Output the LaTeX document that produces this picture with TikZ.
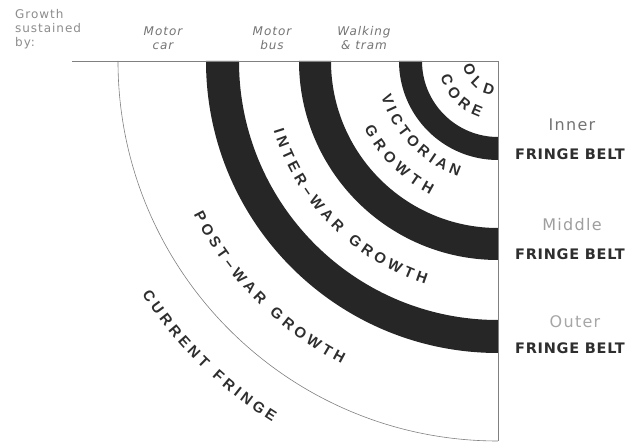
\documentclass[tikz,border=0pt]{standalone}
\usepackage{fontspec}
\usepackage{tikz}
\usetikzlibrary{decorations.text}

\setmainfont{DejaVu Sans}
\newfontfamily\capsans{Liberation Sans}
\newfontfamily\notesans[LetterSpace=8]{DejaVu Sans}
\newfontfamily\beltsans[LetterSpace=5]{DejaVu Sans}

\definecolor{bandblack}{HTML}{262626}
\definecolor{inkdark}{HTML}{2E2E2E}
\definecolor{notegray}{HTML}{8C8C8C}
\definecolor{modegray}{HTML}{747474}
\definecolor{rulegray}{HTML}{808080}

\newcommand{\arcfont}{\capsans\bfseries\fontsize{15}{15}\selectfont}

\begin{document}
\begin{tikzpicture}[x=1pt,y=1pt,
    band/.style={fill=bandblack},
    rule/.style={draw=rulegray,line width=0.8pt},
    note/.style={inner sep=0pt,align=left,text=notegray,
      font=\notesans\fontsize{12}{14}\selectfont},
    mode/.style={inner sep=0pt,align=center,text=modegray,
      font=\notesans\itshape\fontsize{12}{14}\selectfont},
    ring/.style={inner sep=0pt,text=notegray,
      font=\notesans\fontsize{16}{18}\selectfont},
    belt/.style={inner sep=0pt,text=inkdark,
      font=\beltsans\bfseries\fontsize{14.5}{16}\selectfont},
    arclabel/.style={decorate,text=inkdark,font=\arcfont,
      decoration={text along path,text align=fit to path,text color=inkdark}}]

    \useasboundingbox (-498,-382) rectangle (137,61);

    \fill[band] (180:99pt) arc[start angle=180,end angle=270,radius=99pt]
      -- (270:76pt) arc[start angle=270,end angle=180,radius=76pt] -- cycle;

    \fill[band] (180:199pt) arc[start angle=180,end angle=270,radius=199pt]
      -- (270:167pt) arc[start angle=270,end angle=180,radius=167pt] -- cycle;

    \fill[band] (180:292pt) arc[start angle=180,end angle=270,radius=292pt]
      -- (270:259pt) arc[start angle=270,end angle=180,radius=259pt] -- cycle;

    \draw[rule,line width=0.6pt] (180:380pt) arc[start angle=180,end angle=270,radius=380pt];

    \draw[rule] (-426,0) -- (0,0) -- (0,-380);

    \begin{scope}
      \arcfont

      \path[arclabel,decoration={text={OLD}}]
        (188:35pt) arc[start angle=188,end angle=261,radius=35pt];
      \path[arclabel,decoration={text={CORE}}]
        (195:59.5pt) arc[start angle=195,end angle=252,radius=59.5pt];

      \path[arclabel,decoration={text={VICTORIAN}}]
        (197:122pt) arc[start angle=197,end angle=251,radius=122pt];
      \path[arclabel,decoration={text={GROWTH}}]
        (206.8:150pt) arc[start angle=206.8,end angle=243.1,radius=150pt];

      \path[arclabel,decoration={text={INTER–WAR GROWTH}}]
        (197.2:235pt) arc[start angle=197.2,end angle=252,radius=235pt];

      \path[arclabel,decoration={text={POST–WAR GROWTH}}]
        (206.8:341pt) arc[start angle=206.8,end angle=242.7,radius=341pt];

      \path[arclabel,decoration={text={CURRENT FRINGE}}]
        (213.3:426pt) arc[start angle=213.3,end angle=238,radius=426pt];
    \end{scope}

    \node[note,anchor=west] (sustained) at (-483,32) {Growth\\sustained\\by:};

    \node[mode] (car) at (-335,23) {Motor\\car};
    \node[mode] (bus) at (-226,23) {Motor\\bus};
    \node[mode] (tram) at (-134,23) {Walking\\\& tram};

    \node[ring,text=black!55] (inner) at (74,-64) {Inner};
    \node[belt] (innerbelt) at (72,-93) {FRINGE BELT};

    \node[ring,text=black!38] (middle) at (74,-164) {Middle};
    \node[belt] (middlebelt) at (72,-193) {FRINGE BELT};

    \node[ring,text=black!35] (outer) at (77,-261) {Outer};
    \node[belt] (outerbelt) at (72,-287) {FRINGE BELT};

  \end{tikzpicture}
\end{document}
